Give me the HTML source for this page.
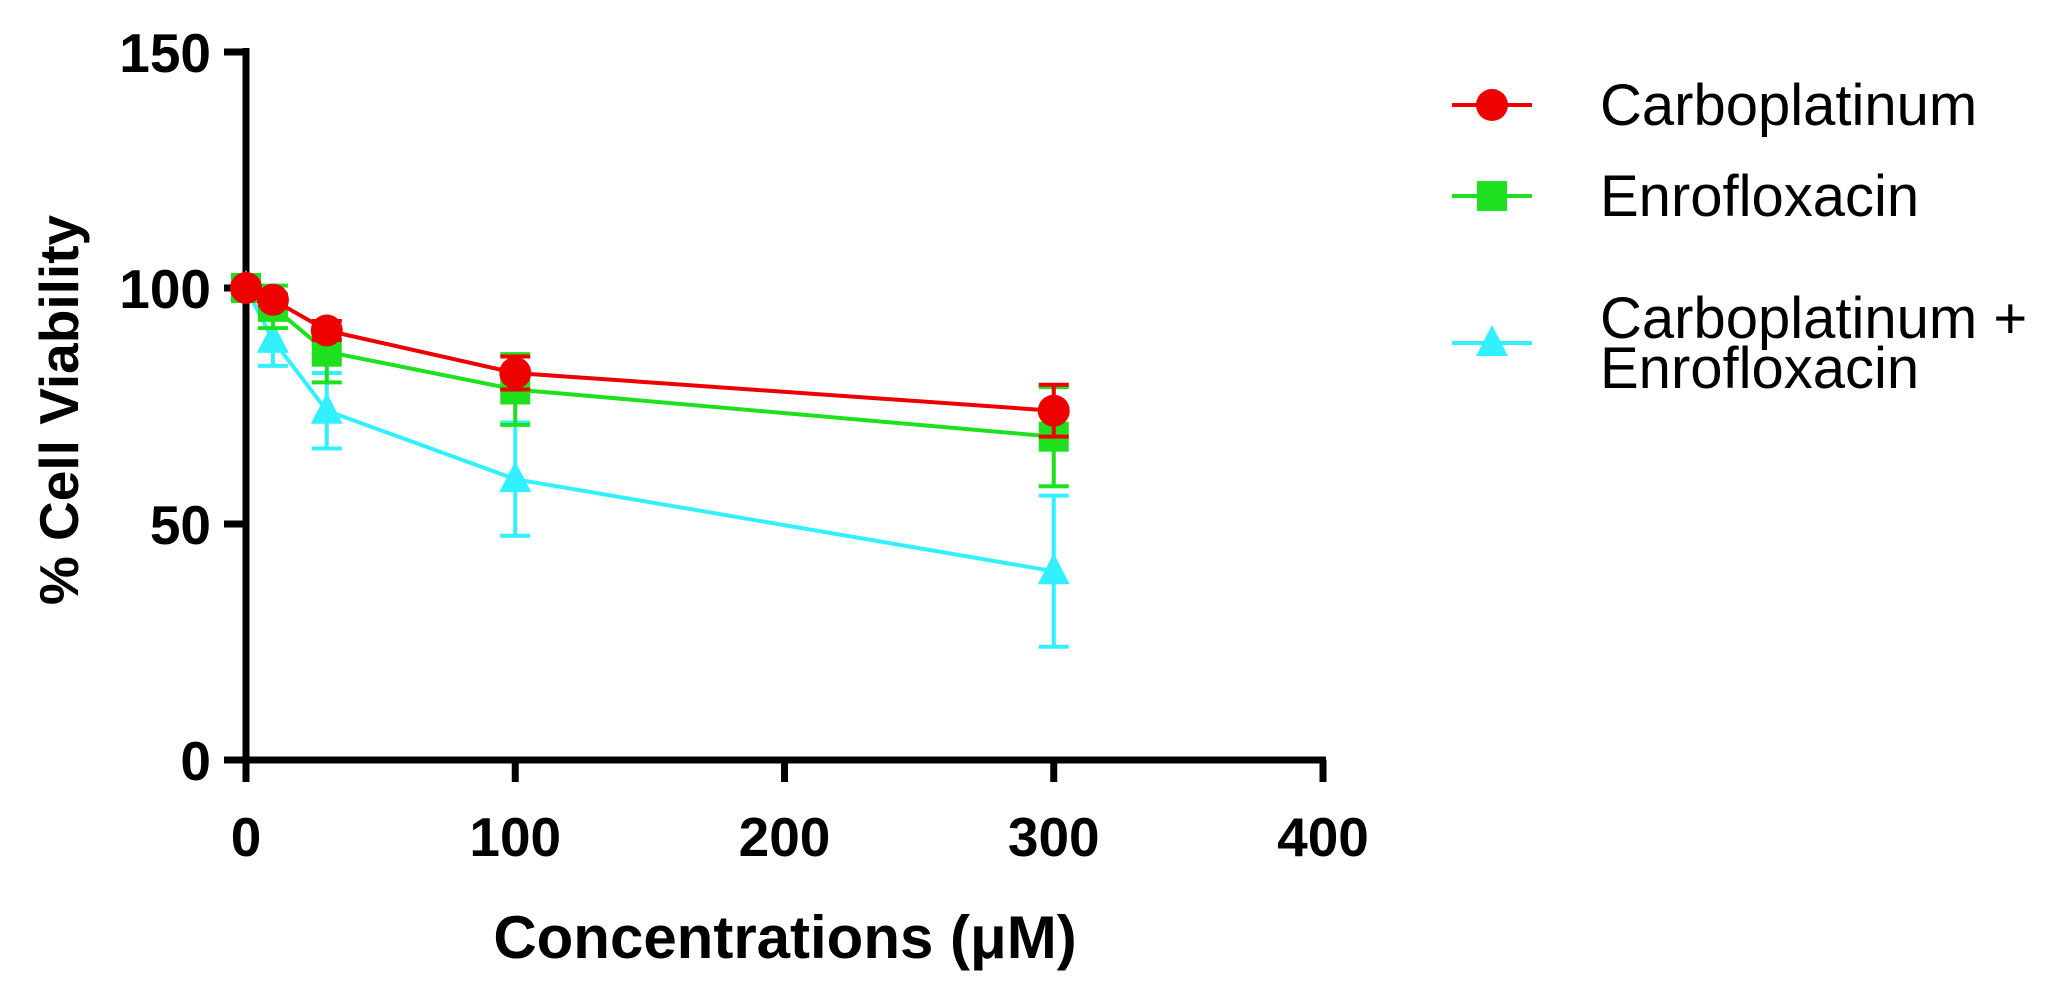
<!DOCTYPE html>
<html><head><meta charset="utf-8"><style>
html,body{margin:0;padding:0;background:#fff;}
svg{display:block;font-family:"Liberation Sans",Arial,sans-serif;}
</style></head><body>
<svg id="chart" width="2052" height="995" viewBox="0 0 2052 995">
<g id="axes"></g>
<g id="series"></g>
<g id="legend"></g>
<text x="785" y="958" font-size="60" font-weight="bold" text-anchor="middle">Concentrations (μM)</text>
<text transform="translate(78,410) rotate(-90)" font-size="55" font-weight="bold" text-anchor="middle">% Cell Viability</text>
</svg>
<script>
const xValues = [0, 10, 30, 100, 300];
const carboMean = [100, 97.5, 91, 82, 74];
const carboErr = [1, 1, 2, 3.5, 5.5];
const enroMean = [100, 96, 86.5, 78.5, 68.5];
const enroErr = [1.5, 4.5, 6.5, 7.5, 10.5];
const comboMean = [100, 89, 74, 59.5, 40];
const comboErr = [1.5, 5.5, 8, 12, 16];
const xTicks = [0, 100, 200, 300, 400];
const yTicks = [0, 50, 100, 150];

const NS = "http://www.w3.org/2000/svg";
const X0 = 246, X1 = 1323, Y0 = 760, Y1 = 52;
const sx = v => X0 + (v / 400) * (X1 - X0);
const sy = v => Y0 - (v / 150) * (Y0 - Y1);
function mk(tag, attrs, parent) {
  const e = document.createElementNS(NS, tag);
  for (const k in attrs) e.setAttribute(k, attrs[k]);
  parent.appendChild(e);
  return e;
}
const axes = document.getElementById('axes');
const yAxis = mk('path', {d: `M${X0},${Y1-4} V${Y0+4}`, stroke: '#000', 'stroke-width': 7, fill: 'none'}, axes);


const xAxis = mk('path', {d: `M${X0-4},${Y0} H${X1+3}`, stroke: '#000', 'stroke-width': 7, fill: 'none'}, axes);


yTicks.forEach(t => {
  const y = sy(t);
  const tk = mk('line', {x1: X0-22, x2: X0, y1: y, y2: y, stroke: '#000', 'stroke-width': 7}, axes);
  
  
  const lb = mk('text', {x: X0-35, y: y+20, 'font-size': 55, 'font-weight': 'bold', 'text-anchor': 'end'}, axes);
  lb.textContent = t;
  
  
});
xTicks.forEach(t => {
  const x = sx(t);
  const tk = mk('line', {x1: x, x2: x, y1: Y0, y2: Y0+22, stroke: '#000', 'stroke-width': 7}, axes);
  
  
  const lb = mk('text', {x: x, y: Y0+96, 'font-size': 55, 'font-weight': 'bold', 'text-anchor': 'middle'}, axes);
  lb.textContent = t;
  
  
});

const seriesG = document.getElementById('series');
function marker(shape, x, y, color, parent) {
  let m;
  if (shape === 'circle') m = mk('circle', {cx: x, cy: y, r: 16, fill: color}, parent);
  else if (shape === 'square') m = mk('rect', {x: x-15, y: y-15, width: 30, height: 30, fill: color}, parent);
  else m = mk('polygon', {points: `${x},${y-18} ${x-16},${y+13} ${x+16},${y+13}`, fill: color}, parent);
  return m;
}
function drawSeries(name, means, errs, color, shape) {
  const g = mk('g', {}, seriesG);
  
  
  xValues.forEach((xv, i) => {
    const x = sx(xv), yt = sy(means[i] + errs[i]), yb = sy(means[i] - errs[i]);
    const eb = mk('path', {d: `M${x},${yt} V${yb} M${x-15},${yt} H${x+15} M${x-15},${yb} H${x+15}`, stroke: color, 'stroke-width': 4, fill: 'none'}, g);
    
    
  });
  const pts = xValues.map((xv, i) => `${sx(xv)},${sy(means[i])}`).join(' ');
  const ln = mk('polyline', {points: pts, stroke: color, 'stroke-width': 4, fill: 'none'}, g);
  
  
  xValues.forEach((xv, i) => {
    const m = marker(shape, sx(xv), sy(means[i]), color, g);
    
    
  });
}
drawSeries('combination', comboMean, comboErr, '#33f0ff', 'triangle');
drawSeries('enrofloxacin', enroMean, enroErr, '#1ee01e', 'square');
drawSeries('carboplatinum', carboMean, carboErr, '#ee0000', 'circle');

const legend = document.getElementById('legend');
const entries = [
  {name: 'carboplatinum', color: '#ee0000', shape: 'circle', y: 105, lines: ['Carboplatinum']},
  {name: 'enrofloxacin', color: '#1ee01e', shape: 'square', y: 196, lines: ['Enrofloxacin']},
  {name: 'combination', color: '#33f0ff', shape: 'triangle', y: 343, lines: ['Carboplatinum +', 'Enrofloxacin']}
];
entries.forEach(en => {
  const g = mk('g', {}, legend);
  
  
  mk('line', {x1: 1452, x2: 1532, y1: en.y, y2: en.y, stroke: en.color, 'stroke-width': 4}, g);
  marker(en.shape, 1492, en.y, en.color, g);
  const n = en.lines.length;
  en.lines.forEach((t, k) => {
    const tx = mk('text', {x: 1600, y: en.y + 20 + (k - (n-1)/2) * 50, 'font-size': 58}, g);
    tx.textContent = t;
  });
});
</script>
</body></html>
